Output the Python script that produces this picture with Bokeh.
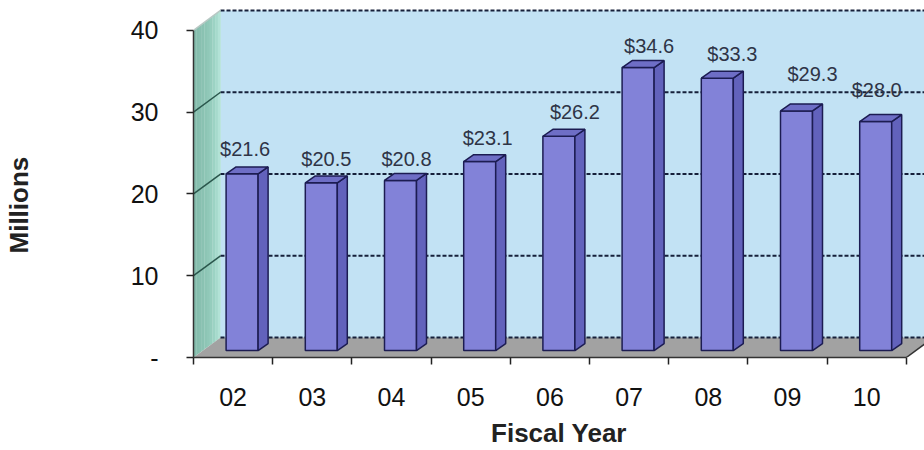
from bokeh.plotting import figure
from bokeh.models import ColumnDataSource, FixedTicker, Range1d, Title
from bokeh.embed import file_html
from bokeh.resources import INLINE
from bokeh.core.properties import value

# ---- data ----
years = ["02", "03", "04", "05", "06", "07", "08", "09", "10"]
amounts = [21.6, 20.5, 20.8, 23.1, 26.2, 34.6, 33.3, 29.3, 28.0]
value_labels = ["$21.6", "$20.5", "$20.8", "$23.1", "$26.2", "$34.6", "$33.3", "$29.3", "$28.0"]
y_ticks = [0, 10, 20, 30, 40]
y_tick_labels = ["-", "10", "20", "30", "40"]

# ---- styling: per-label nudges in screen pixels ----
label_dx_px = [-2, 0, 1, 3, 11, 6, 10, 11, -4]
label_lift_px = [18, 17, 15, 17, 17, 15, 17, 30, 25]

# ---- 3D projection styling (pixel offsets converted to data units) ----
W, H = 924, 450
LEFT, BOTTOM = 193, 91
px_x = 79.2
px_y = 8.225
X_MAX = (W - LEFT) / px_x
Y_MAX = (H - BOTTOM) / px_y
DX, DY = 27 / px_x, 20 / px_y          # wall depth
OX, OY = 9 / px_x, 7 / px_y            # bar front offset into depth
BDX, BDY = 10 / px_x, 7 / px_y         # bar depth
HW = 16 / px_x                          # bar half width

n = len(years)
centers = [i + 0.5 for i in range(n)]
FONT = "Liberation Sans"

p = figure(width=W, height=H, x_range=Range1d(0, X_MAX), y_range=Range1d(0, Y_MAX),
           output_backend="svg", toolbar_location=None,
           min_border_left=LEFT, min_border_right=0, min_border_top=0,
           min_border_bottom=BOTTOM)
p.outline_line_color = None
p.grid.visible = False
p.background_fill_color = "white"
p.border_fill_color = "white"

top = y_ticks[-1]
# back wall
p.patch([DX, X_MAX + 1, X_MAX + 1, DX], [DY, DY, top + DY, top + DY],
        fill_color="#C2E2F4", line_color=None)

# left wall with gradient strips
strip_cols = ["#84BCAC", "#86BEAE", "#88C0B0", "#8AC2B2", "#8DC5B5", "#90C8B8",
              "#95CDBD", "#9CD3C4", "#A6DACC", "#B2E2D6"]
ns = len(strip_cols)
for k, col in enumerate(strip_cols):
    t0, t1 = k / ns, (k + 1) / ns + 0.01
    p.patch([t0 * DX, t1 * DX, t1 * DX, t0 * DX],
            [t0 * DY, t1 * DY, top + t1 * DY, top + t0 * DY],
            fill_color=col, line_color=None)

# floor
p.patch([0, n, n + DX * 2, DX * 2], [0, 0, DY * 2, DY * 2], fill_color="#A2A2A2", line_color=None)
p.patch([DX, X_MAX + 1, X_MAX + 1, DX], [DY, DY, DY + 3, DY + 3], fill_color="#C2E2F4", line_color=None)
p.line([n, n + DX], [0, DY], line_color="#333333", line_width=1.5)

# gridlines on back wall
for g in y_ticks:
    p.line([DX, X_MAX + 1], [g + DY, g + DY], line_color="#16203A", line_width=2,
           line_dash="4 2")
# gridlines on left wall
for g in y_ticks[1:-1]:
    p.line([0, DX], [g, g + DY], line_color="#2A564C", line_width=1.5)
p.line([0, DX], [top, top + DY], line_color="#B8C8C4", line_width=1.5)

# bars
fx, fy, sx, sy, tx, ty = [], [], [], [], [], []
for c, v in zip(centers, amounts):
    x0, x1 = c - HW + OX, c + HW + OX
    y0, y1 = OY, v + OY
    fx.append([x0, x1, x1, x0]); fy.append([y0, y0, y1, y1])
    sx.append([x1, x1 + BDX, x1 + BDX, x1]); sy.append([y0, y0 + BDY, y1 + BDY, y1])
    tx.append([x0, x1, x1 + BDX, x0 + BDX]); ty.append([y1, y1, y1 + BDY, y1 + BDY])
outline = "#1C1C52"
p.patches(fx, fy, fill_color="#8282D8", line_color=outline, line_width=1.5)
p.patches(sx, sy, fill_color="#6262BC", line_color=outline, line_width=1.5)
p.patches(tx, ty, fill_color="#6E6EC6", line_color=outline, line_width=1.5)

# value labels
lab_src = ColumnDataSource(dict(
    x=[c + OX + BDX / 2 + d / px_x for c, d in zip(centers, label_dx_px)],
    y=[v + OY + BDY + l / px_y for v, l in zip(amounts, label_lift_px)],
    t=value_labels))
p.text(x="x", y="y", text="t", source=lab_src, text_align="center",
       text_baseline="alphabetic", text_font=value(FONT),
       text_font_size="20px", text_color="#2E3446")

# y axis
ya = p.yaxis[0]
ya.ticker = FixedTicker(ticks=y_ticks)
ya.major_label_overrides = {t: l for t, l in zip(y_ticks, y_tick_labels)}
ya.bounds = (0, top)
ya.axis_line_color = "#333333"
ya.axis_line_width = 1.5
ya.major_tick_out = 7
ya.major_tick_in = 0
ya.major_tick_line_color = "#222222"
ya.major_tick_line_width = 1.5
ya.minor_tick_line_color = None
ya.major_label_standoff = 28
ya.major_label_text_font = FONT
ya.major_label_text_font_size = "25px"
ya.major_label_text_color = "#111111"
# invisible spacer label so that the title panel sits at the far left
ya.axis_label = " "
ya.axis_label_text_font_size = "1px"
ya.axis_label_standoff = 89

# y axis title as a left-side Title (lets it sit lower than the frame centre)
p.add_layout(Title(text="Millions", align="left", offset=104, standoff=0,
                   vertical_align="middle", text_font=FONT, text_font_style="bold",
                   text_font_size="26px", text_color="#222222"), "left")

# x axis
xa = p.xaxis[0]
xa.ticker = FixedTicker(ticks=centers, minor_ticks=list(range(0, n + 1)))
xa.major_label_overrides = {c: y for c, y in zip(centers, years)}
xa.bounds = (0, n)
xa.axis_line_color = "#333333"
xa.axis_line_width = 1.5
xa.major_tick_line_color = None
xa.major_tick_out = 7
xa.major_tick_in = 0
xa.minor_tick_out = 7
xa.minor_tick_in = 0
xa.minor_tick_line_color = "#222222"
xa.minor_tick_line_width = 1.5
xa.major_label_standoff = 23
xa.major_label_text_font = FONT
xa.major_label_text_font_size = "25px"
xa.major_label_text_color = "#111111"
xa.axis_label = "Fiscal Year"
xa.axis_label_text_font = FONT
xa.axis_label_text_font_style = "bold"
xa.axis_label_text_font_size = "26px"
xa.axis_label_text_color = "#222222"
xa.axis_label_standoff = 9

open("out.html", "w").write(file_html(p, INLINE))
